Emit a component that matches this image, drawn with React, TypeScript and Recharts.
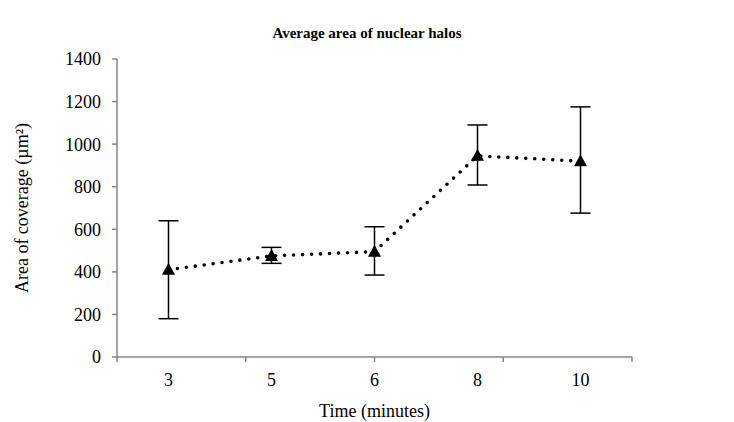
import React from 'react';
import { ComposedChart, Line, XAxis, YAxis, ErrorBar } from 'recharts';

const times = ['3', '5', '6', '8', '10'];
const means = [410, 475, 495, 945, 920];
const lows = [180, 440, 385, 808, 676];
const highs = [640, 515, 612, 1090, 1175];
const yTicks = [0, 200, 400, 600, 800, 1000, 1200, 1400];
const boundaryTicks = [0, 1, 2, 3, 4, 5];

const data = times.map((t, i) => ({
  time: t,
  area: means[i],
  err: [means[i] - lows[i], highs[i] - means[i]],
}));

const AXIS = '#868686';
const FONT = '"Liberation Serif", "Times New Roman", serif';

const Triangle = (props: any) => {
  const { cx, cy } = props;
  if (cx == null || cy == null) return null;
  return <polygon points={`${cx},${cy - 7} ${cx - 6.5},${cy + 5} ${cx + 6.5},${cy + 5}`} fill="#000" />;
};

const NoLabel = () => <g />;

export default function App() {
  return (
    <div style={{ position: 'absolute', left: 0, top: 0, width: 734, height: 422, background: '#fff', fontFamily: FONT }}>
      <style>{`.recharts-wrapper text { font-family: ${FONT} !important; }`}</style>
      <div
        style={{
          position: 'absolute',
          top: 25,
          left: 0,
          width: 734,
          textAlign: 'center',
          fontWeight: 'bold',
          fontSize: 15,
          color: '#000',
        }}
      >
        Average area of nuclear halos
      </div>
      <ComposedChart width={734} height={422} data={data} margin={{ top: 59, right: 102, bottom: 0, left: 0 }}>
        {/* boundary ticks between categories, drawn on a 0..5 numeric axis */}
        <XAxis
          xAxisId="edge"
          type="number"
          domain={[0, 5]}
          ticks={boundaryTicks}
          tick={<NoLabel />}
          height={1}
          stroke={AXIS}
          strokeWidth={1.5}
          tickSize={5}
        />
        <XAxis
          xAxisId="labels"
          dataKey="time"
          scale="band"
          height={64}
          axisLine={false}
          tickLine={false}
          tick={{ fill: '#000', fontSize: 18 }}
          tickMargin={9}
          label={{ value: 'Time (minutes)', position: 'insideBottom', offset: 5, fill: '#000', fontSize: 18 }}
        />
        <YAxis
          domain={[0, 1400]}
          ticks={yTicks}
          width={117}
          stroke={AXIS}
          strokeWidth={1.5}
          tickSize={5}
          tick={{ fill: '#000', fontSize: 18 }}
          tickMargin={11}
          label={{ value: 'Area of coverage (µm²)', angle: -90, position: 'insideLeft', offset: 22, fill: '#000', fontSize: 18, style: { textAnchor: 'middle' } }}
        />
        <Line
          xAxisId="labels"
          dataKey="area"
          stroke="#000"
          strokeWidth={3.6}
          strokeDasharray="0 9"
          strokeLinecap="round"
          dot={<Triangle />}
          activeDot={false}
          isAnimationActive={false}
        >
          <ErrorBar dataKey="err" direction="y" width={10} stroke="#000" strokeWidth={1.5} isAnimationActive={false} />
        </Line>
      </ComposedChart>
    </div>
  );
}
